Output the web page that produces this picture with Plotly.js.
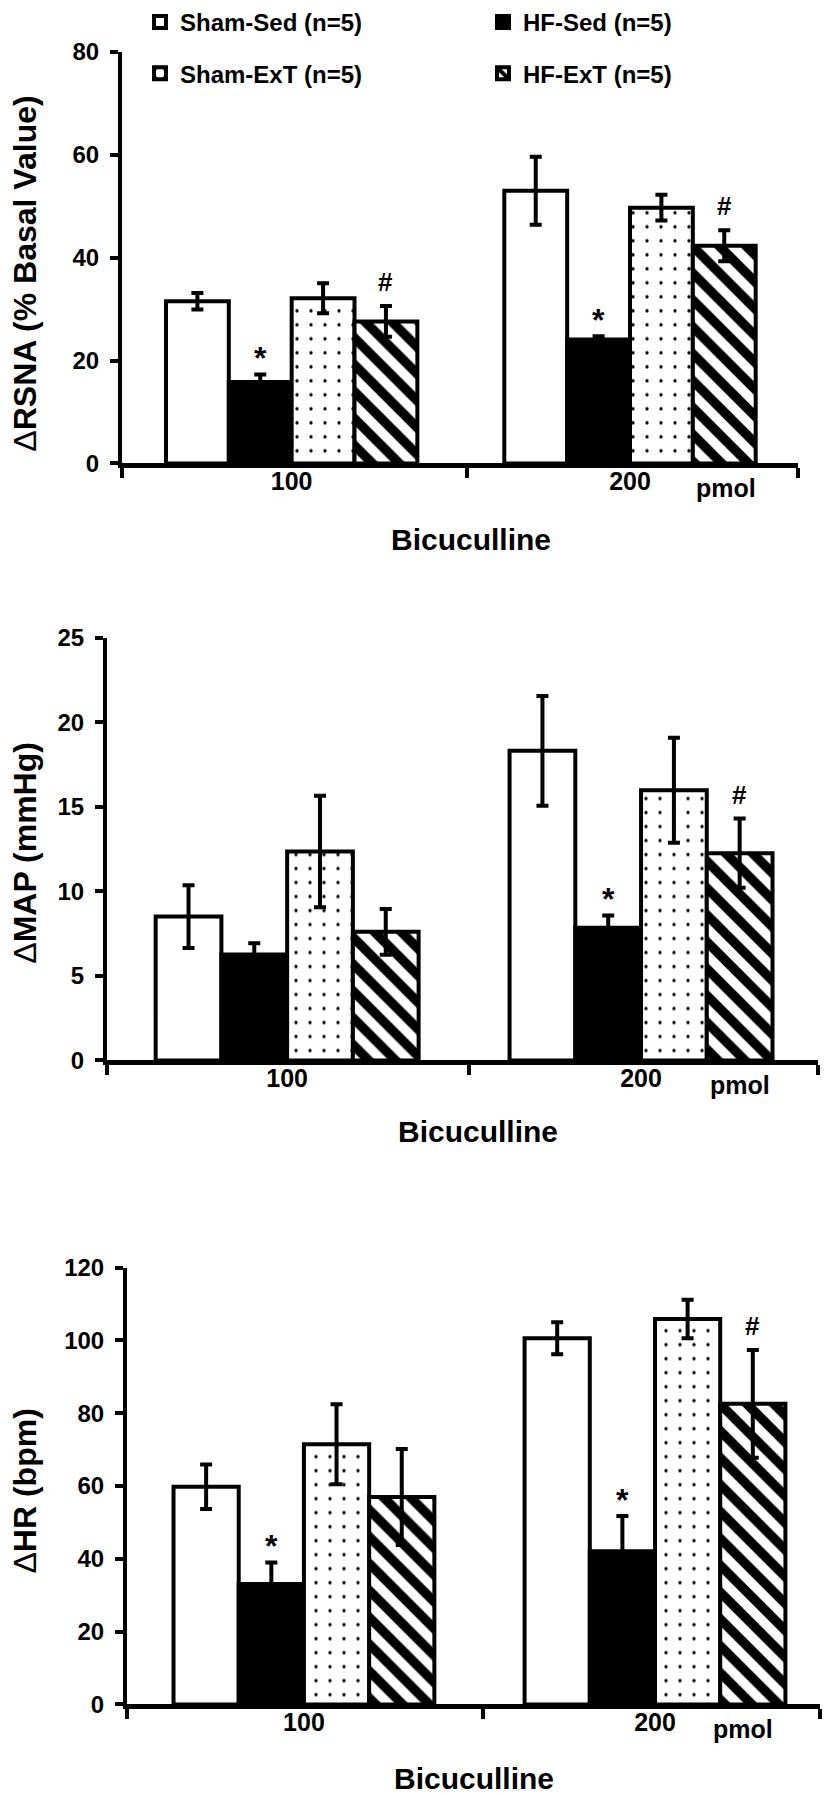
<!DOCTYPE html>
<html><head><meta charset="utf-8">
<script src="https://cdn.plot.ly/plotly-3.0.1.min.js"></script>
<style>html,body{margin:0;padding:0;background:#fff}</style>
</head><body><div id="chart" style="width:826px;height:1795px"></div>
<script>
// ---------------- DATA ----------------
const doses = ['100', '200'];
const groupNames = ['Sham-Sed (n=5)', 'HF-Sed (n=5)', 'Sham-ExT (n=5)', 'HF-ExT (n=5)'];

// ΔRSNA (% Basal Value)
const rsnaShamSed = [31.5, 53.0];  const rsnaShamSedErr = [1.6, 6.6];
const rsnaHfSed   = [15.8, 24.1];  const rsnaHfSedErr   = [1.5, 0.6];
const rsnaShamExt = [32.1, 49.7];  const rsnaShamExtErr = [2.9, 2.5];
const rsnaHfExt   = [27.6, 42.3];  const rsnaHfExtErr   = [3.0, 3.0];
const rsnaSig100 = ['', '*', '', '#'];
const rsnaSig200 = ['', '*', '', '#'];

// ΔMAP (mmHg)
const mapShamSed = [8.5, 18.3];   const mapShamSedErr = [1.85, 3.25];
const mapHfSed   = [6.26, 7.84];  const mapHfSedErr   = [0.67, 0.73];
const mapShamExt = [12.35, 15.97];const mapShamExtErr = [3.3, 3.1];
const mapHfExt   = [7.6, 12.25];  const mapHfExtErr   = [1.35, 2.05];
const mapSig100 = ['', '', '', ''];
const mapSig200 = ['', '*', '', '#'];

// ΔHR (bpm)
const hrShamSed = [59.8, 100.6];  const hrShamSedErr = [6.1, 4.4];
const hrHfSed   = [33.1, 42.1];   const hrHfSedErr   = [5.9, 9.7];
const hrShamExt = [71.5, 105.9];  const hrShamExtErr = [11.0, 5.3];
const hrHfExt   = [57.0, 82.6];   const hrHfExtErr   = [13.2, 14.8];
const hrSig100 = ['', '*', '', ''];
const hrSig200 = ['', '*', '', '#'];

// ---------------- LAYOUT HELPERS ----------------
const W = 826, H = 1795;
const FONT = 'Liberation Sans, Arial, Helvetica, sans-serif';
const px = v => v / W;
const py = v => 1 - v / H;
const BARGAP = 0.257;

const styles = [
  {color: 'white', pattern: {shape: ''}},
  {color: 'black', pattern: {shape: ''}},
  {color: 'white', pattern: {shape: '.', fgcolor: 'black', bgcolor: 'white', size: 14, solidity: 0.045, fillmode: 'replace'}},
  {color: 'white', pattern: {shape: '\\', fgcolor: 'black', bgcolor: 'white', size: 19, solidity: 0.5, fillmode: 'replace'}}
];

const panels = [
  {sfx: '',  means: [rsnaShamSed, rsnaHfSed, rsnaShamExt, rsnaHfExt],
   errs: [rsnaShamSedErr, rsnaHfSedErr, rsnaShamExtErr, rsnaHfExtErr],
   sig: [rsnaSig100, rsnaSig200], title: 'RSNA (% Basal Value)',
   xpx: [122, 798], ypx: [43, 456.7], xr: [-0.5015, 1.4966], yr: [0, 80], dtick: 20,
   mid: 0.518, pmol: 1.283, titleY: 266, bicX: 471, bicY: 533},
  {sfx: '2', means: [mapShamSed, mapHfSed, mapShamExt, mapHfExt],
   errs: [mapShamSedErr, mapHfSedErr, mapShamExtErr, mapHfExtErr],
   sig: [mapSig100, mapSig200], title: 'MAP (mmHg)',
   xpx: [107, 818], ypx: [631.7, 1056.7], xr: [-0.509, 1.5], yr: [0, 25], dtick: 5,
   mid: 0.513, pmol: 1.279, titleY: 848, bicX: 478, bicY: 1128},
  {sfx: '3', means: [hrShamSed, hrHfSed, hrShamExt, hrHfExt],
   errs: [hrShamSedErr, hrHfSedErr, hrShamExtErr, hrHfExtErr],
   sig: [hrSig100, hrSig200], title: 'HR (bpm)',
   xpx: [127, 820], ypx: [1265, 1704], xr: [-0.504, 1.47], yr: [0, 120], dtick: 20,
   mid: 0.509, pmol: 1.252, titleY: 1490, bicX: 474, bicY: 1778}
];

const xIdx = doses.map((d, i) => i);
const traces = [];
const annotations = [];
const layout = {
  width: W, height: H, margin: {l: 0, r: 0, t: 0, b: 0},
  paper_bgcolor: 'white', plot_bgcolor: 'white',
  barmode: 'group', bargap: BARGAP, bargroupgap: 0,
  font: {family: FONT, color: 'black', size: 22, weight: 'bold'},
  annotations: annotations
};

const legendPos = [[160, 13.5], [503, 13.5], [160, 65], [503, 65]];
const legendKeys = ['legend', 'legend2', 'legend3', 'legend4'];
legendKeys.forEach((k, i) => {
  layout[k] = {
    x: px(legendPos[i][0] - 20), xanchor: 'left',
    y: py(legendPos[i][1]), yanchor: 'middle',
    orientation: 'h', bgcolor: 'rgba(0,0,0,0)', borderwidth: 0,
    font: {family: FONT, size: 24, color: 'black', weight: 'bold'}
  };
});

const gw = 1 - BARGAP, bw = gw / 4;
const offset = g => -gw / 2 + bw * (g + 0.5);

panels.forEach((p, pi) => {
  const xa = 'x' + p.sfx, ya = 'y' + p.sfx;
  groupNames.forEach((name, g) => {
    traces.push({
      type: 'bar', name: name, x: xIdx, y: p.means[g],
      xaxis: xa, yaxis: ya,
      legend: legendKeys[g], showlegend: pi === 0,
      marker: {color: styles[g].color, pattern: styles[g].pattern, line: {color: 'black', width: 4}},
      error_y: {type: 'data', array: p.errs[g], visible: true, color: 'black', thickness: 4, width: 6},
      hoverinfo: 'skip'
    });
    // significance marks
    doses.forEach((d, di) => {
      const s = p.sig[di][g];
      if (!s) return;
      annotations.push({
        xref: xa, yref: ya, x: di + offset(g), y: p.means[g][di] + p.errs[g][di],
        text: s, showarrow: false, yanchor: 'middle', yshift: s === '*' ? 16 : 24,
        font: {family: FONT, size: s === '*' ? 32 : 26, color: 'black', weight: 'bold'}
      });
    });
  });

  layout['xaxis' + p.sfx] = {
    domain: [px(p.xpx[0]), px(p.xpx[1])], range: p.xr, anchor: ya,
    tickmode: 'array', tickvals: xIdx, ticktext: doses, ticks: '',
    ticklabelstandoff: -8,
    tickfont: {family: FONT, size: 25, color: 'black', weight: 'bold'},
    showline: true, linecolor: 'black', linewidth: 5, showgrid: false, zeroline: false,
    minor: {tickmode: 'array', tickvals: [p.xr[0], p.mid, p.xr[1]], ticks: 'outside',
            ticklen: 10, tickwidth: 4, tickcolor: 'black', showgrid: false},
    fixedrange: true
  };
  layout['yaxis' + p.sfx] = {
    domain: [py(p.ypx[1]), py(p.ypx[0])], range: p.yr, anchor: xa,
    tickmode: 'linear', tick0: 0, dtick: p.dtick, ticks: 'outside', ticklen: 8, tickwidth: 4,
    tickcolor: 'black', ticklabelstandoff: 6,
    tickfont: {family: FONT, size: 24, color: 'black', weight: 'bold'},
    showline: true, linecolor: 'black', linewidth: 4, showgrid: false, zeroline: false,
    fixedrange: true
  };

  // y-axis title
  annotations.push({
    xref: 'paper', yref: 'paper', x: px(25), y: py(p.titleY), textangle: -90,
    text: '<span style="font-weight:normal">Δ</span>' + p.title, showarrow: false,
    xanchor: 'center', yanchor: 'middle',
    font: {family: FONT, size: 32, color: 'black', weight: 'bold'}
  });
  // x-axis title
  annotations.push({
    xref: 'paper', yref: 'paper', x: px(p.bicX), y: py(p.bicY), text: 'Bicuculline',
    showarrow: false, xanchor: 'center', yanchor: 'middle',
    font: {family: FONT, size: 30, color: 'black', weight: 'bold'}
  });
  // unit label
  annotations.push({
    xref: xa, yref: ya, x: p.pmol, y: 0, yshift: -25, text: 'pmol', showarrow: false,
    xanchor: 'center', yanchor: 'middle',
    font: {family: FONT, size: 25, color: 'black', weight: 'bold'}
  });
});

Plotly.newPlot('chart', traces, layout, {staticPlot: true, displayModeBar: false});
</script></body></html>
